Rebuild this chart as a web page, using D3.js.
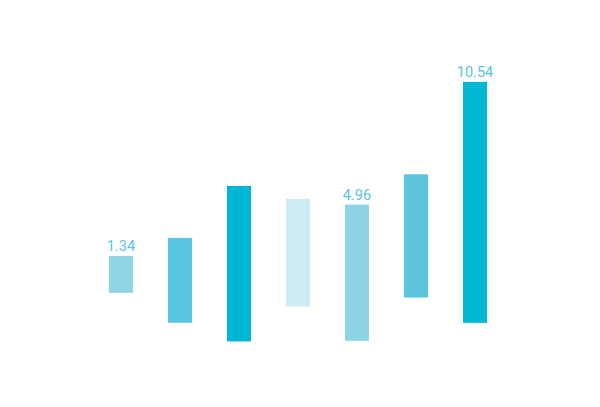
<!DOCTYPE html>
<html>
<head>
<meta charset="utf-8">
<script src="https://cdn.jsdelivr.net/npm/d3@7"></script>
<style>
  html, body { margin: 0; padding: 0; background: #ffffff; }
  svg { display: block; }
</style>
</head>
<body>
<svg id="chart" width="600" height="407"></svg>
<script>
// Data (arbitrary units)
const categories = ["A", "B", "C", "D", "E", "F", "G"];
const lows  = [22.4, 12.4, 6.2, 17.8, 6.4, 20.8, 12.4];
const highs = [34.7, 40.7, 58.0, 53.7, 51.8, 61.9, 92.7];
const barLabels = ["1.34", "", "", "", "4.96", "", "10.54"];
const barColors = ["#8fd4e6", "#5ac5e1", "#00b6d5", "#cfecf4", "#8cd4e5", "#5cc6e1", "#00b7d4"];

const svg = d3.select("#chart");

const x = d3.scaleBand()
  .domain(categories)
  .range([91.5, 504.5])
  .paddingInner(0.593)
  .paddingOuter(0.296);

const y = d3.scaleLinear()
  .domain([0, 100])
  .range([360, 60]);

const data = categories.map((c, i) => ({
  cat: c, low: lows[i], high: highs[i], label: barLabels[i], color: barColors[i]
}));

svg.append("g")
  .selectAll("rect")
  .data(data)
  .join("rect")
  .attr("x", d => x(d.cat))
  .attr("width", x.bandwidth())
  .attr("y", d => y(d.high))
  .attr("height", d => y(d.low) - y(d.high))
  .attr("fill", d => d.color);

svg.append("g")
  .selectAll("text")
  .data(data.filter(d => d.label))
  .join("text")
  .attr("x", d => x(d.cat) + x.bandwidth() / 2)
  .attr("y", d => y(d.high) - 5)
  .attr("text-anchor", "middle")
  .attr("font-family", "Roboto, 'Noto Sans', sans-serif")
  .attr("font-size", 14.5)
  .attr("fill", "#5bc3df")
  .text(d => d.label);
</script>
</body>
</html>
